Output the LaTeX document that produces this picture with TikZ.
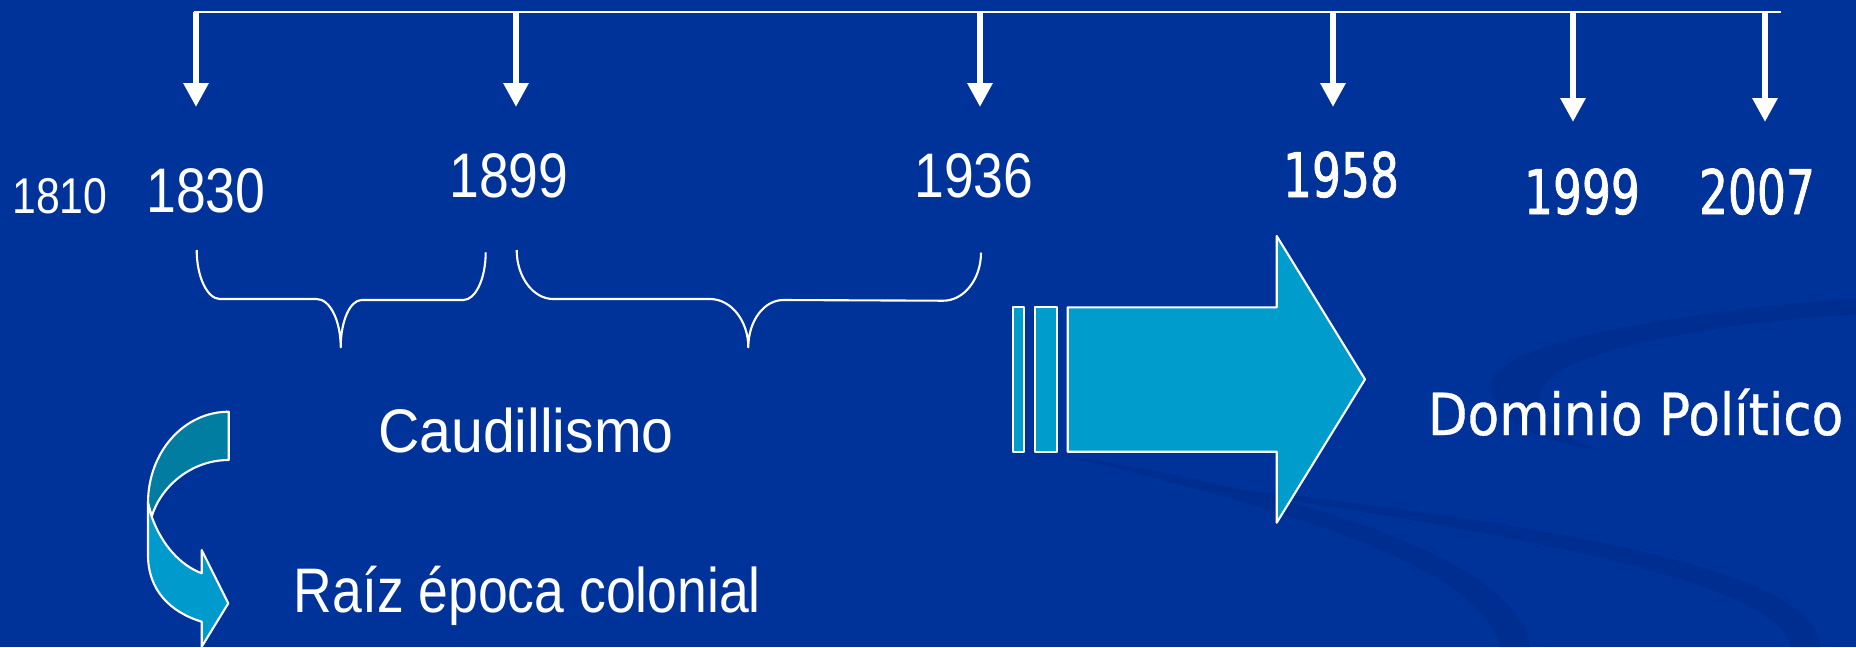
\documentclass[tikz,border=0pt]{standalone}
\usepackage{fontspec}
\newfontfamily\narrowsans[FakeStretch=0.85]{Liberation Sans}
\newfontfamily\plainsans[FakeStretch=0.93]{Liberation Sans}
\newfontfamily\widesans[FakeStretch=0.89, FakeBold=0.6]{DejaVu Sans}
\newfontfamily\yearsans[FakeStretch=0.74, FakeBold=1.2]{DejaVu Sans}
\usetikzlibrary{arrows.meta}
\definecolor{bgblue}{RGB}{0,51,153}
\definecolor{swoosh}{RGB}{0,42,135}
\definecolor{tealdark}{RGB}{0,125,160}
\definecolor{teallight}{RGB}{0,155,205}
\definecolor{arrowfill}{RGB}{0,156,204}
\tikzset{
	yearlbl/.style={text=white, inner sep=0pt, anchor=base},
	drop/.style={-{Triangle[width=0.24cm, length=0.24cm]}, white, line width=0.06cm, line cap=butt},
	brace/.style={white, line width=0.6pt},
	outlined/.style={draw=white, line width=0.6pt}
}

\begin{document}
\begin{tikzpicture}[x=0.01cm, y=-0.01cm, line join=round]
    \fill[bgblue] (0,0) rectangle (1856,647);
    \useasboundingbox (0,0) rectangle (1856,647);

    \fill[swoosh, opacity=0.45] (1060,455) .. controls (1250,500) and (1480,560) .. (1500,647)
        -- (1530,647) .. controls (1520,560) and (1300,490) .. (1060,455) -- cycle;
    \fill[swoosh, opacity=0.45] (1150,480) .. controls (1500,530) and (1780,580) .. (1790,647)
        -- (1820,647) .. controls (1820,570) and (1550,520) .. (1150,480) -- cycle;
    \fill[swoosh, opacity=0.45] (1856,298) .. controls (1700,310) and (1480,340) .. (1490,390)
        .. controls (1500,430) and (1560,445) .. (1600,450)
        .. controls (1540,430) and (1520,400) .. (1560,370)
        .. controls (1620,340) and (1750,320) .. (1856,315) -- cycle;

    \coordinate (L0) at (194,12);
    \coordinate (L1) at (1781,12);
    \draw[white, line width=0.7pt] (L0) -- (L1);

    \coordinate (A1) at (196,12);  \coordinate (T1) at (196,107);
    \coordinate (A2) at (516,12);  \coordinate (T2) at (516,107);
    \coordinate (A3) at (980,12);  \coordinate (T3) at (980,107);
    \coordinate (A4) at (1333,12); \coordinate (T4) at (1333,107);
    \coordinate (A5) at (1573,12); \coordinate (T5) at (1573,122);
    \coordinate (A6) at (1765,12); \coordinate (T6) at (1765,122);

    \draw[drop] (A1) -- (T1);
    \draw[drop] (A2) -- (T2);
    \draw[drop] (A3) -- (T3);
    \draw[drop] (A4) -- (T4);
    \draw[drop] (A5) -- (T5);
    \draw[drop] (A6) -- (T6);

    \node[yearlbl, font=\narrowsans\fontsize{14.3}{16}\selectfont] (y1810) at (60,213)   {1810};
    \node[yearlbl, font=\narrowsans\fontsize{17.9}{20}\selectfont] (y1830) at (206,212)  {1830};
    \node[yearlbl, font=\narrowsans\fontsize{17.9}{20}\selectfont] (y1899) at (509,197)  {1899};
    \node[yearlbl, font=\narrowsans\fontsize{17.9}{20}\selectfont] (y1936) at (974,197)  {1936};
    \node[yearlbl, font=\yearsans\fontsize{17.5}{20}\selectfont]   (y1958) at (1341,197) {1958};
    \node[yearlbl, font=\yearsans\fontsize{17.5}{20}\selectfont]   (y1999) at (1582,214) {1999};
    \node[yearlbl, font=\yearsans\fontsize{17.5}{20}\selectfont]   (y2007) at (1757,214) {2007};

    \draw[brace] (196.7,250) .. controls (196.7,277) and (207.4,299) .. (220,299) -- (316.7,299)
        .. controls (330,299) and (340.7,320.8) .. (340.7,347.3)
        .. controls (340.7,320.8) and (350.2,300) .. (361.7,300) -- (463.3,300)
        .. controls (475.6,300) and (485.7,278.5) .. (485.7,252.3);
    \draw[brace] (516.7,250) .. controls (516.7,277) and (533.2,299) .. (553.3,299) -- (710,299)
        .. controls (731,299) and (748.3,320.7) .. (748.3,347.3)
        .. controls (748.3,321) and (764,300) .. (783.3,300) -- (943.3,300.7)
        .. controls (964,300.7) and (981,279) .. (981,252.7);

    \node[yearlbl, font=\plainsans\fontsize{17.5}{20}\selectfont] (caud) at (526,452) {Caudillismo};
    \node[yearlbl, font=\narrowsans\fontsize{17.9}{20}\selectfont] (raiz) at (527.4,612) {Raíz época colonial};
    \node[yearlbl, font=\widesans\fontsize{16.5}{20}\selectfont] (dominio) at (1635.5,435) {Dominio Político};

    \filldraw[outlined, fill=tealdark] (228.7,411.7) .. controls (184,411.7) and (148,452) .. (148,503)
        -- (151.7,516.7) .. controls (160,488) and (190,460) .. (228.7,460) -- cycle;
    \filldraw[outlined, fill=teallight] (151.7,516.7) .. controls (162,545) and (180,565) .. (201.7,573.3)
        -- (201.7,550) -- (228.3,603.3) -- (201.7,646.7) -- (201.7,621.7)
        .. controls (170,612) and (148,590) .. (148,555) -- (148,503) -- cycle;

    \filldraw[outlined, fill=arrowfill] (1012.7,307.3) rectangle (1024.3,451.7);
    \filldraw[outlined, fill=arrowfill] (1034.7,307.3) rectangle (1057.3,451.7);
    \filldraw[outlined, fill=arrowfill] (1067.7,307.3) -- (1276.7,307.3) -- (1276.7,236)
        -- (1365,379.3) -- (1276.7,522.7) -- (1276.7,451.7) -- (1067.7,451.7) -- cycle;
\end{tikzpicture}
\end{document}
